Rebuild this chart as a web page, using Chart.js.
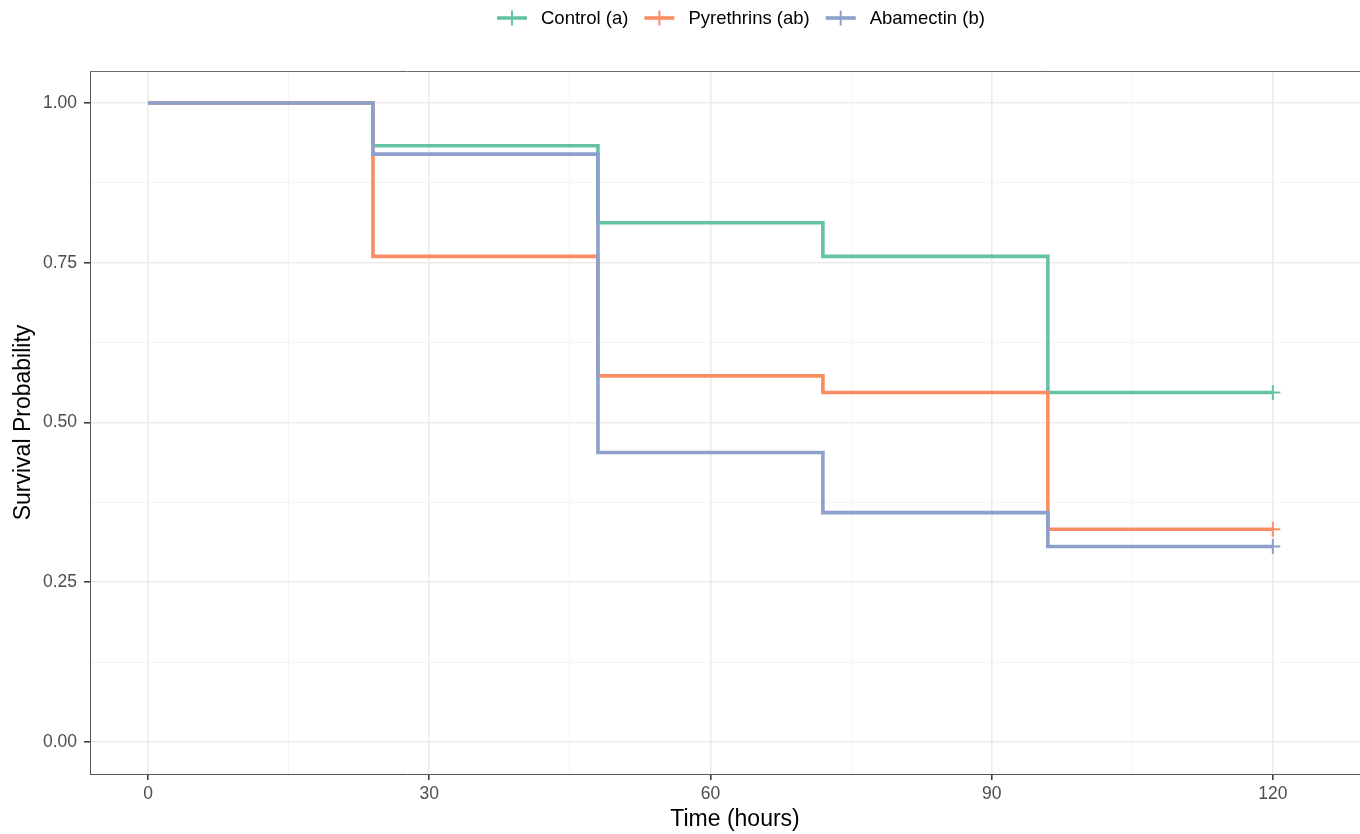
<!DOCTYPE html>
<html lang="en">
  <head>
    <meta charset="UTF-8" />
    <title>Survival curves</title>
    <script src="https://cdn.jsdelivr.net/npm/chart.js"></script>
    <style>
      body { margin: 0; background: #fff; }
      #wrap { width: 1360px; height: 834px; }
    </style>
  </head>
  <body>
    <div id="wrap"><canvas id="myChart" width="1360" height="834"></canvas></div>
    <script>
      // time points (hours) and survival per group
      var horas = [0, 24, 48, 72, 96, 120];
      var controle = [1.0, 0.933, 0.8125, 0.76, 0.547, 0.547];
      var piretrinas = [1.0, 0.76, 0.573, 0.547, 0.333, 0.333];
      var abamectina = [1.0, 0.92, 0.453, 0.359, 0.306, 0.306];
      var nomes = ["Control (a)", "Pyrethrins (ab)", "Abamectin (b)"];
      var cores = ["#66C2A5", "#FC8D62", "#8DA0CB"];
      var xTicks = [0, 15, 30, 45, 60, 75, 90, 105, 120];
      var xMajor = [0, 30, 60, 90, 120];
      var yTicks = [0, 0.125, 0.25, 0.375, 0.5, 0.625, 0.75, 0.875, 1.0];
      var yMajor = [0, 0.25, 0.5, 0.75, 1.0];
      var tituloX = "Time (hours)";

      function pontos(vals) {
        return horas.map(function (h, i) {
          return { x: h, y: vals[i] };
        });
      }

      function serie(label, vals, cor, ordem) {
        return {
          label: label,
          data: pontos(vals),
          order: ordem,
          borderColor: cor,
          backgroundColor: cor,
          borderWidth: 3.6,
          stepped: "before",
          fill: false,
          pointStyle: "cross",
          pointRadius: function (ctx) {
            return ctx.dataIndex === horas.length - 1 ? 7.5 : 0;
          },
          pointBorderWidth: 2,
          pointHoverRadius: 0,
        };
      }

      function isMajor(lista, v) {
        return lista.some(function (m) { return Math.abs(m - v) < 1e-9; });
      }

      // panel top border, x title and ggplot style legend
      var extras = {
        id: "extras",
        afterDraw: function (chart) {
          var c = chart.ctx;
          var a = chart.chartArea;
          c.save();
          c.strokeStyle = "#666";
          c.lineWidth = 1;
          c.beginPath();
          c.moveTo(a.left, a.top + 0.5);
          c.lineTo(a.right, a.top + 0.5);
          c.stroke();

          // x title sits centred on the (wider, cropped) original panel
          c.font = "23px 'Liberation Sans', Arial, sans-serif";
          c.fillStyle = "#000";
          c.textAlign = "center";
          c.textBaseline = "middle";
          c.fillText(tituloX, 735, 820);

          c.textAlign = "left";
          c.font = "18.5px 'Liberation Sans', Arial, sans-serif";
          var linha = 30, gap1 = 14, gap2 = 16;
          var x = 497;
          var y = 18;
          nomes.forEach(function (n, i) {
            c.strokeStyle = cores[i];
            c.lineWidth = 3.6;
            c.beginPath();
            c.moveTo(x, y);
            c.lineTo(x + linha, y);
            c.stroke();
            c.lineWidth = 2;
            c.beginPath();
            c.moveTo(x + linha / 2, y - 7.5);
            c.lineTo(x + linha / 2, y + 7.5);
            c.stroke();
            x += linha + gap1;
            c.fillStyle = "#000";
            c.fillText(n, x, y + 1);
            x += c.measureText(n).width + gap2;
          });
          c.restore();
        },
      };

      const ctx = document.getElementById("myChart");
      new Chart(ctx, {
        type: "line",
        data: {
          datasets: [
            serie(nomes[0], controle, cores[0], 3),
            serie(nomes[1], piretrinas, cores[1], 2),
            serie(nomes[2], abamectina, cores[2], 1),
          ],
        },
        options: {
          responsive: false,
          animation: false,
          devicePixelRatio: 1,
          layout: { autoPadding: false, padding: { top: 71, left: 0, right: 0, bottom: 0 } },
          plugins: {
            legend: { display: false },
            tooltip: { enabled: false },
          },
          scales: {
            x: {
              type: "linear",
              min: -6.19,
              max: 129.3,
              afterBuildTicks: function (s) {
                s.ticks = xTicks.map(function (v) { return { value: v }; });
              },
              afterFit: function (s) {
                s.height = 60;
                s.paddingRight = 0;
                s.paddingLeft = 0;
              },
              ticks: {
                autoSkip: false,
                maxRotation: 0,
                padding: 4,
                color: "#4D4D4D",
                font: { family: "'Liberation Sans', Arial", size: 17.5 },
                callback: function (v) { return isMajor(xMajor, v) ? String(v) : ""; },
              },
              grid: {
                color: function (c) { return isMajor(xMajor, c.tick.value) ? "#EBEBEB" : "#F4F4F4"; },
                lineWidth: function (c) { return isMajor(xMajor, c.tick.value) ? 1.6 : 1; },
                tickColor: function (c) { return isMajor(xMajor, c.tick.value) ? "#333" : "rgba(0,0,0,0)"; },
                tickLength: 6,
                tickWidth: 1.5,
              },
              border: { display: true, color: "#555", width: 1 },
              title: { display: false },
            },
            y: {
              type: "linear",
              min: -0.05,
              max: 1.05,
              afterBuildTicks: function (s) {
                s.ticks = yTicks.map(function (v) { return { value: v }; });
              },
              afterFit: function (s) { s.width = 90; },
              ticks: {
                autoSkip: false,
                padding: 7,
                color: "#4D4D4D",
                font: { family: "'Liberation Sans', Arial", size: 17.5 },
                callback: function (v) { return isMajor(yMajor, v) ? v.toFixed(2) : ""; },
              },
              grid: {
                color: function (c) { return isMajor(yMajor, c.tick.value) ? "#EBEBEB" : "#F4F4F4"; },
                lineWidth: function (c) { return isMajor(yMajor, c.tick.value) ? 1.6 : 1; },
                tickColor: function (c) { return isMajor(yMajor, c.tick.value) ? "#333" : "rgba(0,0,0,0)"; },
                tickLength: 6,
                tickWidth: 1.5,
              },
              border: { display: true, color: "#555", width: 1 },
              title: {
                display: true,
                text: "Survival Probability",
                color: "#000",
                padding: { top: 10, bottom: 0 },
                font: { family: "'Liberation Sans', Arial", size: 23 },
              },
            },
          },
        },
        plugins: [extras],
      });
    </script>
  </body>
</html>
